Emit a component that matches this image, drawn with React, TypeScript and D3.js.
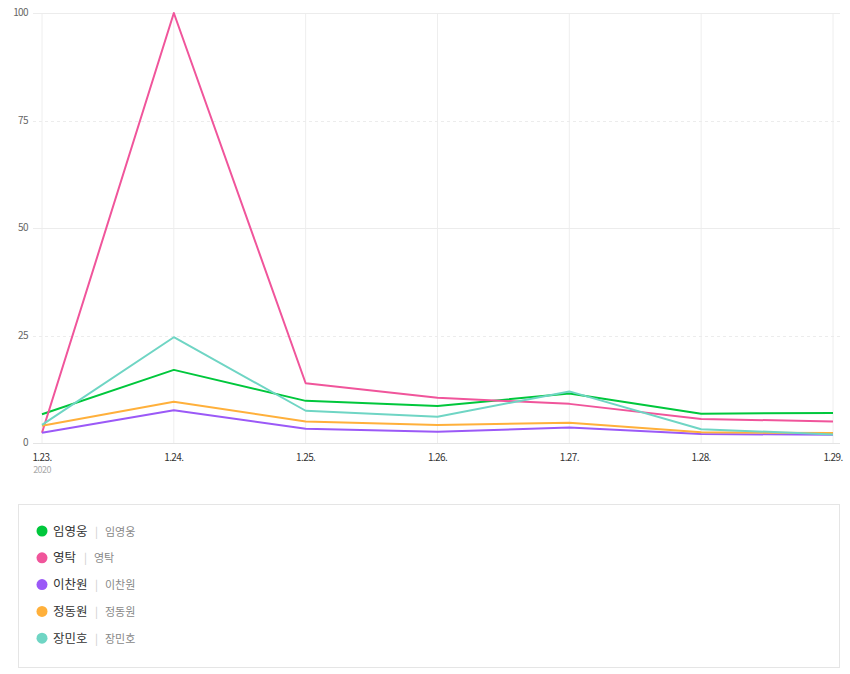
import React, { useEffect, useRef } from 'react'
import * as d3 from 'd3'

const dates = ['1.23.', '1.24.', '1.25.', '1.26.', '1.27.', '1.28.', '1.29.']
const yTicks = [0, 25, 50, 75, 100]

const names = ['임영웅', '영탁', '이찬원', '정동원', '장민호']
const colors = ['#00c73c', '#f0559b', '#9b59f7', '#ffb03b', '#6fd5c4']

const limYoungwoong = [6.7, 17.0, 9.8, 8.6, 11.5, 6.8, 7.0]
const youngtak = [2.4, 100, 13.9, 10.5, 9.1, 5.6, 5.0]
const leeChanwon = [2.4, 7.6, 3.3, 2.6, 3.6, 2.1, 1.9]
const jungDongwon = [4.0, 9.6, 5.0, 4.2, 4.7, 2.5, 2.3]
const jangMinho = [4.2, 24.6, 7.5, 6.1, 12.0, 3.2, 2.0]

const seriesValues = [limYoungwoong, youngtak, leeChanwon, jungDongwon, jangMinho]

const W = 850
const H = 674
const M = { left: 42, right: 17, top: 13, bottom: 231 }
const FONT = '"Noto Sans CJK KR", "Noto Sans", sans-serif'

const App = () => {
  const ref = useRef<SVGSVGElement>(null)

  useEffect(() => {
    const svg = d3.select(ref.current)
    svg.selectAll('*').remove()

    const x = d3
      .scalePoint()
      .domain(dates)
      .range([M.left, W - M.right])
    const y = d3
      .scaleLinear()
      .domain([0, 100])
      .range([H - M.bottom, M.top])

    const grid = svg.append('g')
    // vertical grid
    grid
      .selectAll('line.v')
      .data(dates)
      .enter()
      .append('line')
      .attr('x1', d => x(d)!)
      .attr('x2', d => x(d)!)
      .attr('y1', y(100))
      .attr('y2', y(0))
      .attr('stroke', '#eeeeee')
      .attr('stroke-width', 1)
    // horizontal grid
    grid
      .selectAll('line.h')
      .data(yTicks)
      .enter()
      .append('line')
      .attr('x1', 33)
      .attr('x2', W - 10)
      .attr('y1', d => Math.round(y(d)) + 0.5)
      .attr('y2', d => Math.round(y(d)) + 0.5)
      .attr('stroke', d => (d === 0 ? '#e4e4e4' : '#ececec'))
      .attr('stroke-dasharray', d => (d === 25 || d === 75 ? '3,3' : null))

    svg
      .append('g')
      .selectAll('text')
      .data(yTicks)
      .enter()
      .append('text')
      .attr('x', 28)
      .attr('y', d => y(d) + 3)
      .attr('text-anchor', 'end')
      .attr('font-family', FONT)
      .attr('font-size', 10)
      .attr('letter-spacing', -0.6)
      .attr('fill', '#666')
      .text(d => d)

    svg
      .append('g')
      .selectAll('text')
      .data(dates)
      .enter()
      .append('text')
      .attr('x', d => x(d)!)
      .attr('y', y(0) + 18)
      .attr('text-anchor', 'middle')
      .attr('font-family', FONT)
      .attr('font-size', 10)
      .attr('letter-spacing', -0.6)
      .attr('fill', '#333')
      .text(d => d)

    svg
      .append('text')
      .attr('x', x(dates[0])!)
      .attr('y', y(0) + 30)
      .attr('text-anchor', 'middle')
      .attr('font-family', FONT)
      .attr('font-size', 9)
      .attr('letter-spacing', -0.6)
      .attr('fill', '#aaa')
      .text('2020')

    const line = d3
      .line<number>()
      .x((d, i) => x(dates[i])!)
      .y(d => y(d))

    svg
      .append('g')
      .selectAll('path')
      .data(seriesValues)
      .enter()
      .append('path')
      .attr('d', d => line(d))
      .attr('fill', 'none')
      .attr('stroke', (d, i) => colors[i])
      .attr('stroke-width', 2)
      .attr('stroke-linejoin', 'round')

    // legend
    const lg = svg.append('g')
    lg.append('rect')
      .attr('x', 18.5)
      .attr('y', 504.5)
      .attr('width', 821)
      .attr('height', 163)
      .attr('fill', '#fff')
      .attr('stroke', '#e5e5e5')

    const item = lg
      .selectAll('g.item')
      .data(names)
      .enter()
      .append('g')
      .attr('transform', (d, i) => `translate(0, ${531 + i * 26.8})`)

    item
      .append('circle')
      .attr('cx', 42)
      .attr('cy', 0)
      .attr('r', 5.5)
      .attr('fill', (d, i) => colors[i])
    item
      .append('text')
      .attr('x', 53)
      .attr('y', 4.5)
      .attr('font-family', FONT)
      .attr('font-size', 12.5)
      .attr('fill', '#333')
      .text(d => d)
    item
      .append('text')
      .attr('x', (d, i) => 53 + (d.length === 2 ? 31 : 42))
      .attr('y', 4.5)
      .attr('font-family', FONT)
      .attr('font-size', 11)
      .attr('fill', '#ccc')
      .text('|')
    item
      .append('text')
      .attr('x', (d, i) => 53 + (d.length === 2 ? 41 : 52))
      .attr('y', 4.5)
      .attr('font-family', FONT)
      .attr('font-size', 11)
      .attr('fill', '#888')
      .text(d => d)
  }, [])

  return (
    <svg
      ref={ref}
      width={W}
      height={H}
      style={{ position: 'absolute', left: 0, top: 0, background: '#fff' }}
    />
  )
}

export default App
